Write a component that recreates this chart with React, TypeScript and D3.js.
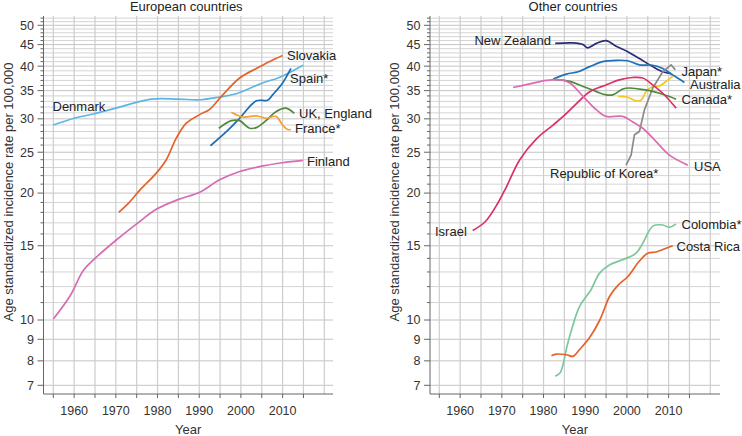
import React from "react";
import * as d3 from "d3";

type Pt = [number, number];

// ---------- data ----------
const yTickLabels = [7, 8, 9, 10, 15, 20, 25, 30, 35, 40, 45, 50];
const xTickLabels = [1960, 1970, 1980, 1990, 2000, 2010];
const xTickMarks = [1955, 1960, 1965, 1970, 1975, 1980, 1985, 1990, 1995, 2000, 2005, 2010, 2015];
const xGridYears = [1955, 1960, 1965, 1970, 1975, 1980, 1985, 1990, 1995, 2000, 2005, 2010, 2015, 2020];

// European countries
const denmark: Pt[] = [[1955, 29.0], [1960, 30.1], [1964.6, 30.8], [1970, 31.8], [1978.5, 33.4], [1985, 33.4], [1990.4, 33.3], [1994.9, 33.8], [1998.9, 34.4], [2005.2, 36.5], [2009.2, 37.6], [2014.9, 40.2]];
const slovakia: Pt[] = [[1970.7, 18.0], [1973, 18.9], [1975.7, 20.3], [1979.7, 22.3], [1982.1, 24.0], [1984.5, 27.0], [1986.9, 29.3], [1990.1, 30.7], [1992.5, 31.6], [1995.3, 33.9], [1999.7, 37.5], [2003.7, 39.5], [2006.8, 41.0], [2010, 42.4]];
const spain: Pt[] = [[1992.7, 25.9], [1996.9, 28.2], [1999.7, 30.1], [2003.7, 33.1], [2006.4, 33.2], [2007.6, 34.2], [2010, 36.5], [2012, 39.5]];
const ukEngland: Pt[] = [[1994.7, 28.5], [1997.7, 29.7], [1999.7, 29.7], [2002.1, 28.5], [2003.7, 28.6], [2006, 29.7], [2008.4, 31.2], [2010.8, 31.8], [2012.8, 30.9]];
const france: Pt[] = [[1997.7, 31.1], [2000.5, 30.3], [2003.7, 30.5], [2006, 30.1], [2008.4, 30.4], [2010, 29.0], [2011.2, 28.3], [2012, 28.3]];
const finland: Pt[] = [[1955, 10.05], [1959, 11.4], [1962.2, 13.1], [1965, 14.0], [1970.2, 15.5], [1975, 16.9], [1979.7, 18.3], [1984.9, 19.3], [1990.1, 20.1], [1994.9, 21.5], [1999.7, 22.5], [2005.3, 23.2], [2010, 23.6], [2014.9, 23.9]];

// Other countries
const newZealand: Pt[] = [[1982.8, 45.3], [1987.1, 45.4], [1989.5, 45.0], [1990.6, 44.2], [1992.7, 45.3], [1995, 46.0], [1997.4, 44.6], [2000.2, 43.3], [2003, 41.7], [2006.2, 39.9], [2008.6, 38.8], [2010.6, 38.4]];
const australia: Pt[] = [[1982.3, 37.3], [1985.5, 38.3], [1988.3, 38.8], [1991.1, 39.9], [1994.2, 41.0], [1997.4, 41.3], [2000.2, 41.2], [2003, 40.3], [2006.2, 40.2], [2008.6, 39.5], [2011, 38.1], [2013.8, 36.6]];
const japan: Pt[] = [[1997.9, 33.9], [2000, 33.8], [2002.2, 33.1], [2003.4, 33.2], [2004.6, 34.8], [2006.2, 35.8], [2007.8, 35.9], [2009.4, 36.8], [2011, 37.9]];
const korea: Pt[] = [[1999.8, 23.3], [2001, 24.6], [2001.8, 27.5], [2003, 28.0], [2004.2, 31.5], [2006.2, 35.5], [2008.6, 38.8], [2010.6, 40.3], [2011.6, 39.2]];
const canada: Pt[] = [[1982.3, 37.2], [1986.3, 36.8], [1989.5, 35.8], [1992.7, 34.8], [1995, 34.2], [1996.6, 34.2], [1999, 35.3], [2000.6, 35.5], [2003, 35.3], [2005.4, 35.0], [2007.8, 34.5], [2010.2, 33.9], [2011.8, 33.4]];
const israel: Pt[] = [[1963, 16.3], [1966, 17.1], [1969, 18.9], [1971.1, 20.7], [1974.3, 24.0], [1978.3, 26.9], [1982.3, 29.0], [1984.7, 30.4], [1987.9, 32.6], [1991.1, 34.8], [1995, 36.1], [1998.2, 37.1], [2001.4, 37.6], [2003.8, 37.5], [2006.2, 36.1], [2008.6, 34.5], [2011.8, 31.8]];
const usa: Pt[] = [[1972.7, 35.6], [1976.7, 36.3], [1980.7, 37.0], [1984, 37.1], [1986.3, 36.5], [1989.5, 33.9], [1992.7, 31.5], [1995, 30.4], [1999, 30.4], [2001.4, 29.5], [2003.8, 28.5], [2007, 26.5], [2010.2, 24.6], [2014.6, 23.3]];
const colombia: Pt[] = [[1982.8, 7.36], [1984, 7.5], [1985.8, 8.8], [1988.6, 10.75], [1991.4, 11.8], [1993.4, 12.9], [1995.8, 13.5], [1999.8, 14.0], [2002.2, 14.4], [2003.8, 15.2], [2006.2, 16.7], [2008.6, 16.8], [2010.2, 16.6], [2011.8, 16.9]];
const costaRica: Pt[] = [[1981.9, 8.23], [1983.1, 8.3], [1985.5, 8.27], [1987.1, 8.2], [1988.6, 8.5], [1991.1, 9.1], [1993.5, 10.0], [1995.9, 11.4], [1997.9, 12.1], [2000.3, 12.7], [2003, 13.8], [2005, 14.4], [2007, 14.5], [2009.4, 14.8], [2011, 15.0]];

type Series = { name: string; data: Pt[]; color: string; lx: number; ly: number; anchor?: string; linear?: boolean };

const european: Series[] = [
  { name: "Denmark", data: denmark, color: "#5db5e4", lx: 52.5, ly: 106 },
  { name: "Slovakia", data: slovakia, color: "#e4622c", lx: 287, ly: 55 },
  { name: "Spain*", data: spain, color: "#1b6cb3", lx: 290, ly: 78 },
  { name: "UK, England", data: ukEngland, color: "#4f8a39", lx: 299, ly: 113 },
  { name: "France*", data: france, color: "#f4a134", lx: 295, ly: 128 },
  { name: "Finland", data: finland, color: "#d56cb5", lx: 307, ly: 161 },
];

const others: Series[] = [
  { name: "New Zealand", data: newZealand, color: "#2b2c78", lx: 551, ly: 40, anchor: "end" },
  { name: "Australia", data: australia, color: "#1f72b8", lx: 690, ly: 84 },
  { name: "Japan*", data: japan, color: "#f6c620", lx: 681.5, ly: 71 },
  { name: "Republic of Korea*", data: korea, color: "#8a8a8a", lx: 550, ly: 173, linear: true },
  { name: "Canada*", data: canada, color: "#4f8a39", lx: 681.5, ly: 99 },
  { name: "Israel", data: israel, color: "#d93169", lx: 435, ly: 231 },
  { name: "USA", data: usa, color: "#dc6cb2", lx: 694, ly: 166 },
  { name: "Colombia*", data: colombia, color: "#7dc79a", lx: 681.5, ly: 224 },
  { name: "Costa Rica", data: costaRica, color: "#e4622c", lx: 676.5, ly: 246 },
];

const FONT = "'Liberation Sans', Arial, Helvetica, sans-serif";
const TOP = 16;
const BOTTOM = 394;
const yScale = d3.scaleLog().domain([10, 50]).range([320, 25.3]);
const gridValues = d3.range(7, 53);

function Panel({ title, series, axisX, rightX, x1955 }: { title: string; series: Series[]; axisX: number; rightX: number; x1955: number }) {
  const xScale = d3.scaleLinear().domain([1955, 2020]).range([x1955, x1955 + 271]);
  const centerX = (axisX + rightX) / 2;
  return (
    <g>
      <text x={centerX - 2} y={11} textAnchor="middle" fontSize={13} fill="#222">{title}</text>
      {gridValues.map((v) => (
        <line key={"h" + v} x1={axisX} x2={rightX} y1={yScale(v)} y2={yScale(v)}
          stroke={yTickLabels.includes(v) ? "#c4c4c4" : "#d4d4d4"} strokeWidth={1} />
      ))}
      {xGridYears.map((yr) => (
        <line key={"v" + yr} x1={xScale(yr)} x2={xScale(yr)} y1={TOP} y2={BOTTOM} stroke="#cdcdcd" strokeWidth={1.2} />
      ))}
      <line x1={axisX} x2={axisX} y1={TOP} y2={BOTTOM} stroke="#666" strokeWidth={1} />
      <line x1={axisX} x2={rightX} y1={BOTTOM} y2={BOTTOM} stroke="#666" strokeWidth={1} />
      {gridValues.map((v) => (
        <line key={"t" + v} x1={axisX - (yTickLabels.includes(v) ? 6 : 3)} x2={axisX} y1={yScale(v)} y2={yScale(v)} stroke="#666" strokeWidth={1} />
      ))}
      {yTickLabels.map((v) => (
        <text key={"yl" + v} x={axisX - 9.5} y={yScale(v)} dy="0.35em" textAnchor="end" fontSize={12.5} fill="#333">{v}</text>
      ))}
      {xTickMarks.map((yr) => (
        <line key={"xt" + yr} x1={xScale(yr)} x2={xScale(yr)} y1={BOTTOM} y2={BOTTOM + 4} stroke="#666" strokeWidth={1} />
      ))}
      {xTickLabels.map((yr) => (
        <text key={"xl" + yr} x={xScale(yr)} y={415} textAnchor="middle" fontSize={12.5} fill="#333">{yr}</text>
      ))}
      <text x={centerX} y={434} textAnchor="middle" fontSize={13} fill="#333">Year</text>
      <text transform={`translate(${axisX - 31},${192}) rotate(-90)`} textAnchor="middle" fontSize={13} fill="#333">
        Age standardized incidence rate per 100,000
      </text>
      {series.map((s) => {
        const line = d3.line<Pt>()
          .x((d) => xScale(d[0]))
          .y((d) => yScale(d[1]))
          .curve(s.linear ? d3.curveLinear : d3.curveCatmullRom.alpha(0.5));
        return <path key={s.name} d={line(s.data) || ""} fill="none" stroke={s.color} strokeWidth={1.7} strokeLinejoin="round" />;
      })}
      {series.map((s) => (
        <text key={"lab" + s.name} x={s.lx} y={s.ly} dy="0.35em" textAnchor={s.anchor || "start"} fontSize={13} fill="#222">{s.name}</text>
      ))}
    </g>
  );
}

export default function App() {
  return (
    <svg width={742} height={436} style={{ position: "absolute", left: 0, top: 0, fontFamily: FONT, background: "#fff" }}>
      <rect x={0} y={0} width={742} height={436} fill="#fff" />
      <Panel title="European countries" series={european} axisX={43.5} rightX={333} x1955={53.3} />
      <Panel title="Other countries" series={others} axisX={430} rightX={720} x1955={439.3} />
    </svg>
  );
}
